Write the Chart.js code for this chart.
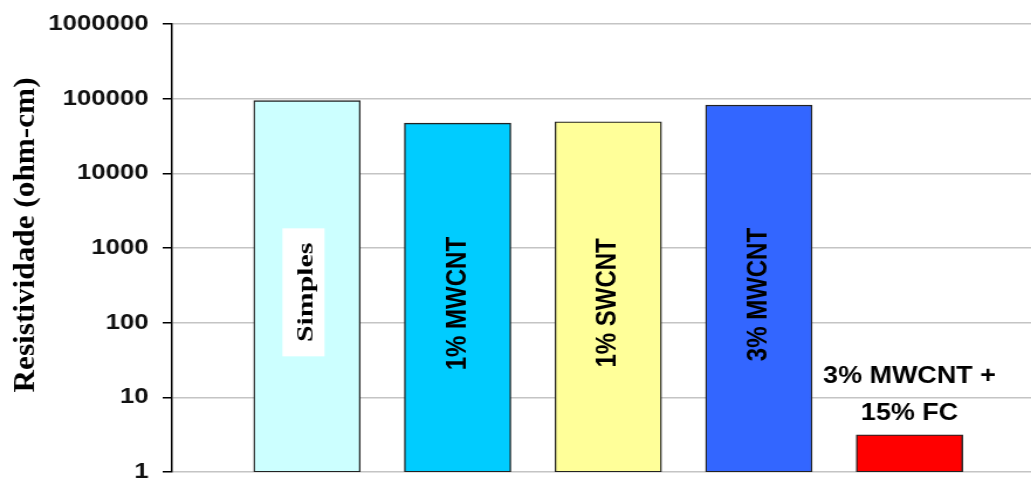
<!DOCTYPE html>
<html>
<head>
<meta charset="utf-8">
<script src="https://cdn.jsdelivr.net/npm/chart.js@4.4.0/dist/chart.umd.min.js"></script>
<style>
  html, body { margin: 0; padding: 0; background: #fff; overflow: hidden; }
  /* o grafico e desenhado estreito e esticado na horizontal */
  #wrap { width: 881px; height: 480px; transform: scaleX(1.1703); transform-origin: 0 0; }
</style>
</head>
<body>
<div id="wrap"><canvas id="grafico" width="881" height="480"></canvas></div>
<script>
const amostras = ['Simples', '1% MWCNT', '1% SWCNT', '3% MWCNT', ['3% MWCNT +', '15% FC']];
const posicoes = [1, 2, 3, 4, 5];
const resistividade = [94000, 47000, 49000, 82000, 3.15];
const coresBarras = ['#CCFFFF', '#00CCFF', '#FFFF99', '#3366FF', '#FF0000'];
const marcasY = [1, 10, 100, 1000, 10000, 100000, 1000000];
const tituloY = 'Resistividade (ohm-cm)';

// nomes das amostras: dentro da barra (girado) ou acima dela quando a barra e baixa
const rotulosBarras = {
    id: 'rotulosBarras',
    afterDatasetsDraw(chart) {
        const ctx = chart.ctx;
        const barras = chart.getDatasetMeta(0).data;
        barras.forEach((barra, i) => {
            const texto = amostras[i];
            ctx.save();
            ctx.fillStyle = '#000';
            ctx.textAlign = 'center';
            if (Array.isArray(texto)) {
                ctx.font = 'bold 23px "Liberation Sans", Arial, sans-serif';
                ctx.textBaseline = 'alphabetic';
                texto.slice().reverse().forEach((linha, k) => {
                    ctx.fillText(linha, barra.x, barra.y - 15 - k * 37);
                });
            } else {
                const meio = (barra.y + barra.base) / 2 + 6;
                ctx.translate(barra.x, meio);
                ctx.rotate(-Math.PI / 2);
                ctx.textBaseline = 'middle';
                if (i === 0) {
                    ctx.fillStyle = '#fff';
                    ctx.fillRect(-64, -21, 128, 36);
                    ctx.fillStyle = '#000';
                    ctx.scale(1.57, 1);
                    ctx.font = 'bold 19px "Liberation Serif", "Times New Roman", serif';
                } else {
                    ctx.font = 'bold 24px "Liberation Sans", Arial, sans-serif';
                }
                ctx.fillText(texto, 0, 0);
            }
            ctx.restore();
        });
    }
};

const tituloEixo = {
    id: 'tituloEixo',
    afterDraw(chart) {
        const { ctx, chartArea } = chart;
        ctx.save();
        ctx.translate(23, (chartArea.top + chartArea.bottom) / 2 - 13);
        ctx.rotate(-Math.PI / 2);
        ctx.scale(1.25, 1);
        ctx.font = 'bold 25px "Liberation Serif", "Times New Roman", serif';
        ctx.textAlign = 'center';
        ctx.textBaseline = 'middle';
        ctx.fillStyle = '#000';
        ctx.fillText(tituloY, 0, 0);
        ctx.restore();
    }
};

new Chart(document.getElementById('grafico'), {
    type: 'bar',
    data: {
        datasets: [{
            data: posicoes.map((x, i) => ({ x: x, y: resistividade[i] })),
            backgroundColor: coresBarras,
            borderColor: '#222',
            borderWidth: 1.4,
            borderSkipped: false,
            barThickness: 91
        }]
    },
    options: {
        responsive: false,
        animation: false,
        layout: { autoPadding: false, padding: { top: 24, bottom: 8, left: 0, right: 0 } },
        plugins: {
            legend: { display: false },
            tooltip: { enabled: false }
        },
        scales: {
            x: { type: 'linear', min: 0.104, max: 5.807, offset: false, grid: { offset: false }, display: false },
            y: {
                type: 'logarithmic',
                min: 1,
                max: 1000000,
                afterBuildTicks: s => { s.ticks = marcasY.map(v => ({ value: v })); },
                afterFit: s => { s.width = 147; s.paddingTop = 0; s.paddingBottom = 0; },
                ticks: {
                    callback: v => String(v),
                    color: '#111',
                    padding: 12,
                    font: { family: '"Liberation Sans", Arial, sans-serif', size: 22, weight: 'bold' }
                },
                grid: { color: '#c4c4c4', lineWidth: 1.5, tickColor: '#000', tickLength: 8, tickWidth: 1.5 },
                border: { color: '#000', width: 1.5 }
            }
        }
    },
    plugins: [rotulosBarras, tituloEixo]
});
</script>
</body>
</html>
